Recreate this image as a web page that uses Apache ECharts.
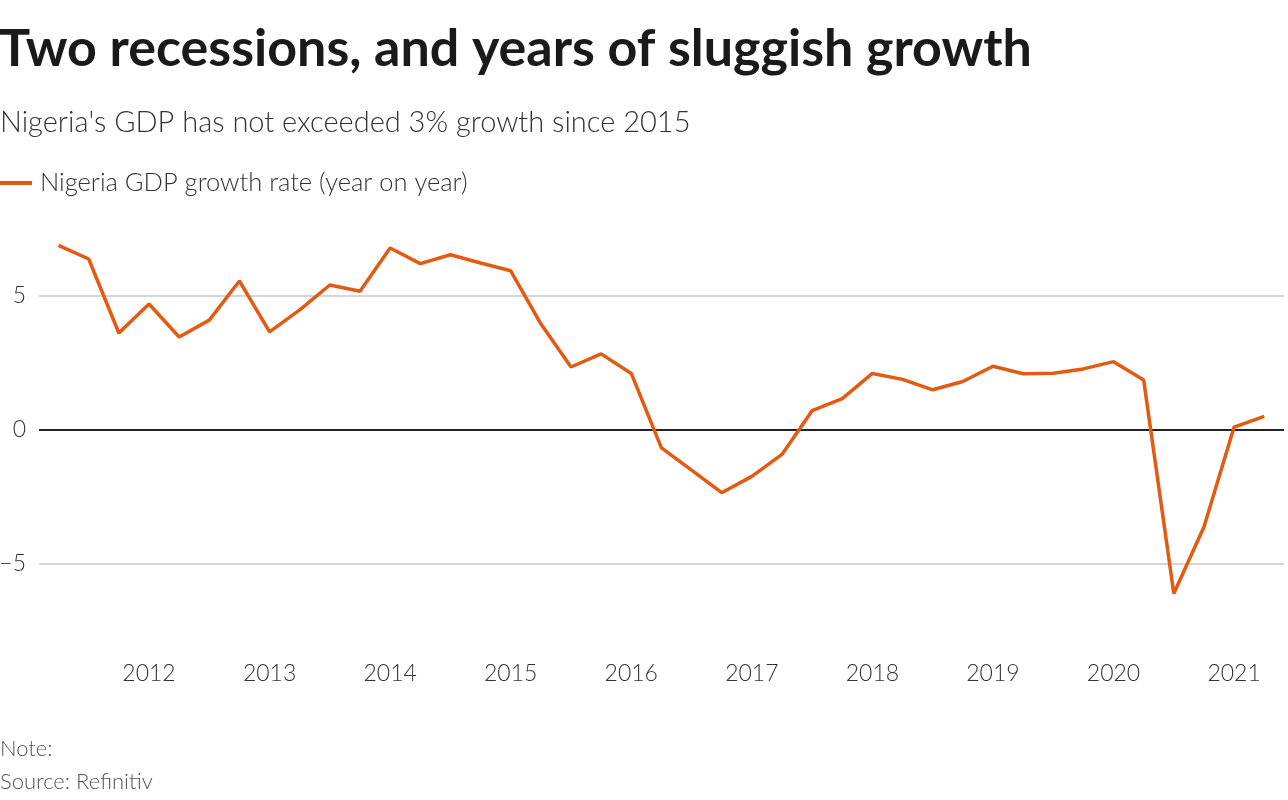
<!DOCTYPE html>
<html><head><meta charset="utf-8">
<script src="https://cdn.jsdelivr.net/npm/echarts@6/dist/echarts.min.js"></script>
<style>html,body{margin:0;padding:0;background:#fff}#c{width:1288px;height:800px}</style>
</head><body><div id="c"></div>
<script>
const quarters = ['2011Q1','2011Q2','2011Q3','2011Q4','2012Q1','2012Q2','2012Q3','2012Q4','2013Q1','2013Q2','2013Q3','2013Q4','2014Q1','2014Q2','2014Q3','2014Q4','2015Q1','2015Q2','2015Q3','2015Q4','2016Q1','2016Q2','2016Q3','2016Q4','2017Q1','2017Q2','2017Q3','2017Q4','2018Q1','2018Q2','2018Q3','2018Q4','2019Q1','2019Q2','2019Q3','2019Q4','2020Q1','2020Q2','2020Q3','2020Q4','2021Q1'];
const growth = [6.89,6.38,3.62,4.70,3.47,4.10,5.56,3.66,4.48,5.41,5.18,6.79,6.21,6.54,6.23,5.94,3.96,2.35,2.84,2.11,-0.67,-1.50,-2.34,-1.73,-0.91,0.72,1.17,2.11,1.89,1.50,1.81,2.38,2.10,2.12,2.28,2.55,1.87,-6.10,-3.62,0.11,0.51];
const yearTicks = [2012,2013,2014,2015,2016,2017,2018,2019,2020,2021];
const yTicks = [-5,0,5];
const seriesName = 'Nigeria GDP growth rate (year on year)';

// quarter-end position in fractional years
const points = quarters.map((q,i)=>{
  const y = parseInt(q.slice(0,4),10), n = parseInt(q.slice(5),10);
  return [y + n*0.25, growth[i]];
});

const FONT = 'Lato';
const chart = echarts.init(document.getElementById('c'), null, {renderer:'canvas'});
chart.setOption({
  animation:false,
  backgroundColor:'#fff',
  title:[
    {text:'Two recessions, and years of sluggish growth', left:-1, top:23, padding:0,
     textStyle:{fontFamily:FONT,fontWeight:'bold',fontSize:52,color:'#1a1a1a'}},
    {text:"Nigeria's GDP has not exceeded 3% growth since 2015", left:0, top:108, padding:0,
     textStyle:{fontFamily:FONT,fontWeight:300,fontSize:29,color:'#333'}},
    {text:'Note:', left:0, top:738, padding:0,
     textStyle:{fontFamily:FONT,fontWeight:300,fontSize:22,color:'#555'}},
    {text:'Source: Refinitiv', left:0, top:771, padding:0,
     textStyle:{fontFamily:FONT,fontWeight:300,fontSize:22,color:'#555'}}
  ],
  legend:{show:true,left:0,top:170,padding:0,icon:'rect',itemWidth:32,itemHeight:4,
    data:[seriesName],
    textStyle:{fontFamily:FONT,fontWeight:300,fontSize:25.5,color:'#333',padding:[0,0,0,3]}},
  grid:{left:39,right:4,top:215.6,bottom:155.6,containLabel:false,outerBoundsMode:'none'},
  xAxis:{type:'value',min:2011.0876,max:2021.414,
    axisLine:{show:false},axisTick:{show:false},splitLine:{show:false},
    axisLabel:{customValues:yearTicks,margin:18,fontFamily:FONT,fontWeight:300,fontSize:23,color:'#333',
      formatter:v=>String(Math.round(v))}},
  yAxis:{type:'value',min:-8,max:8,
    axisLine:{show:false},axisTick:{show:false},splitLine:{show:false},
    axisLabel:{customValues:yTicks,margin:13,fontFamily:FONT,fontWeight:300,fontSize:23,color:'#333',
      formatter:v=>String(v).replace('-','\u2212')}},
  series:[
    {type:'line',name:seriesName,data:points,showSymbol:false,symbol:'none',
     lineStyle:{color:'#E35A12',width:3.5},itemStyle:{color:'#E35A12'},z:5,
     markLine:{silent:true,symbol:'none',label:{show:false},
       data:yTicks.map(v=>({yAxis:v,lineStyle:{color:v===0?'#222':'#c8c8c8',width:v===0?2:1.5,type:'solid'}}))}}
  ]
});
</script></body></html>
